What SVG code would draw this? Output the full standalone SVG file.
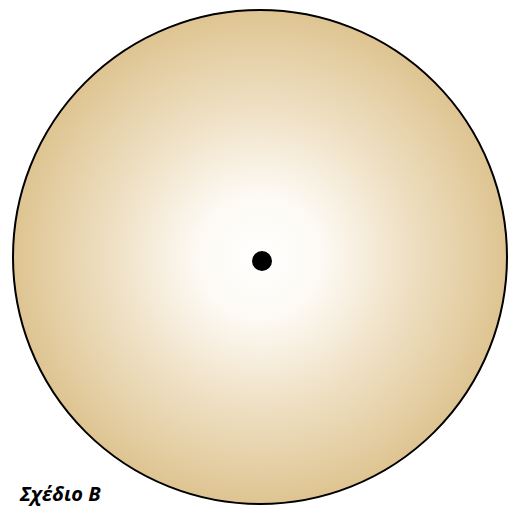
<svg xmlns="http://www.w3.org/2000/svg" width="510" height="507" viewBox="0 0 510 507">
<defs>
<radialGradient id="g" cx="0.5" cy="0.5" r="0.5">
<stop offset="0" stop-color="#ffffff"/>
<stop offset="0.25" stop-color="#fdfaf4"/>
<stop offset="0.6" stop-color="#efe0c4"/>
<stop offset="1" stop-color="#dec491"/>
</radialGradient>
</defs>
<rect width="510" height="507" fill="#ffffff"/>
<g id="disc">
<circle cx="260" cy="257" r="247" fill="url(#g)" stroke="#000" stroke-width="2"/>
</g>
<g id="center">
<circle cx="262" cy="261" r="10" fill="#000"/>
</g>
<text x="20" y="501" font-family="'Open Sans', 'Liberation Sans', sans-serif" font-weight="bold" font-style="italic" font-size="20" fill="#000">Σχέδιο Β</text>
</svg>
